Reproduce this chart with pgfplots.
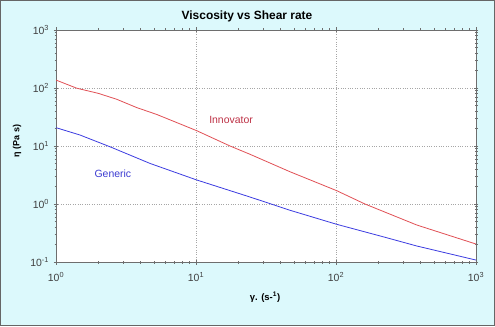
\documentclass[border=0pt]{standalone}
\usepackage{pgfplots}
\pgfplotsset{compat=1.18}
\usepackage{fontspec}
\setmainfont{Liberation Sans}
\definecolor{bgc}{RGB}{220,249,252}
\definecolor{redl}{RGB}{225,80,85}
\definecolor{redt}{RGB}{190,50,70}
\definecolor{bluel}{RGB}{60,60,225}
\definecolor{bluet}{RGB}{60,60,210}
\definecolor{axc}{RGB}{110,110,110}
\begin{document}
\begin{tikzpicture}[x=1bp,y=1bp]
\fill[bgc] (0,0) rectangle (495,326);
\draw[gray!80!black,line width=1.2bp] (0.6,0.6) rectangle (494.4,325.4);
\useasboundingbox (0,0) rectangle (495,326);
\node[font=\bfseries\fontsize{12}{14}\selectfont] at (247,310) {Viscosity vs Shear rate};
\node[font=\bfseries\fontsize{9}{11}\selectfont,rotate=90] at (17,185) {η (Pa s)};
\node[font=\bfseries\fontsize{9.5}{11}\selectfont] at (265,29) {γ. (s-\textsuperscript{1})};
\begin{axis}[
  at={(56bp,64bp)}, anchor=south west,
  scale only axis, width=420bp, height=232bp,
  xmode=log, ymode=log,
  xmin=1, xmax=1000, ymin=0.1, ymax=1000,
  axis background/.style={fill=white},
  axis line style={axc, line width=0.8pt},
  xtick={1,10,100,1000}, ytick={0.1,1,10,100,1000},
  xticklabels={10\textsuperscript{0},10\textsuperscript{1},10\textsuperscript{2},10\textsuperscript{3}},
  yticklabels={10\textsuperscript{-1},10\textsuperscript{0},10\textsuperscript{1},10\textsuperscript{2},10\textsuperscript{3}},
  tick label style={font=\fontsize{10.5}{12}\selectfont, text=black!75},
  xticklabel style={yshift=-4bp},
  yticklabel style={xshift=-1bp},
  tick align=center,
  major tick length=5bp, minor tick length=3bp,
  tick style={axc, line width=0.6pt},
  xmajorgrids, ymajorgrids,
  major grid style={gray!70, dotted, line width=0.6pt},
  clip=true,
]
\addplot[redl, line width=0.8pt] coordinates {
(1,137) (1.41,99) (2.0,81) (2.71,64) (3.77,46) (5.24,35) (10.1,18.4) (17.5,10) (24.3,7.2) (46.9,3.6) (101,1.70) (161,1.0) (377,0.435) (1000,0.204)
};
\addplot[bluel, line width=0.8pt] coordinates {
(1,20.7) (1.48,15.5) (2.43,9.7) (4.7,5.0) (10.1,2.6) (24.3,1.32) (46.9,0.78) (101,0.447) (220,0.27) (377,0.189) (1000,0.108)
};
\node[text=redt, font=\fontsize{10.5}{12}\selectfont] at (axis cs:17.8,28) {Innovator};
\node[text=bluet, font=\fontsize{10.5}{12}\selectfont] at (axis cs:2.55,3.3) {Generic};
\end{axis}
\end{tikzpicture}
\end{document}
